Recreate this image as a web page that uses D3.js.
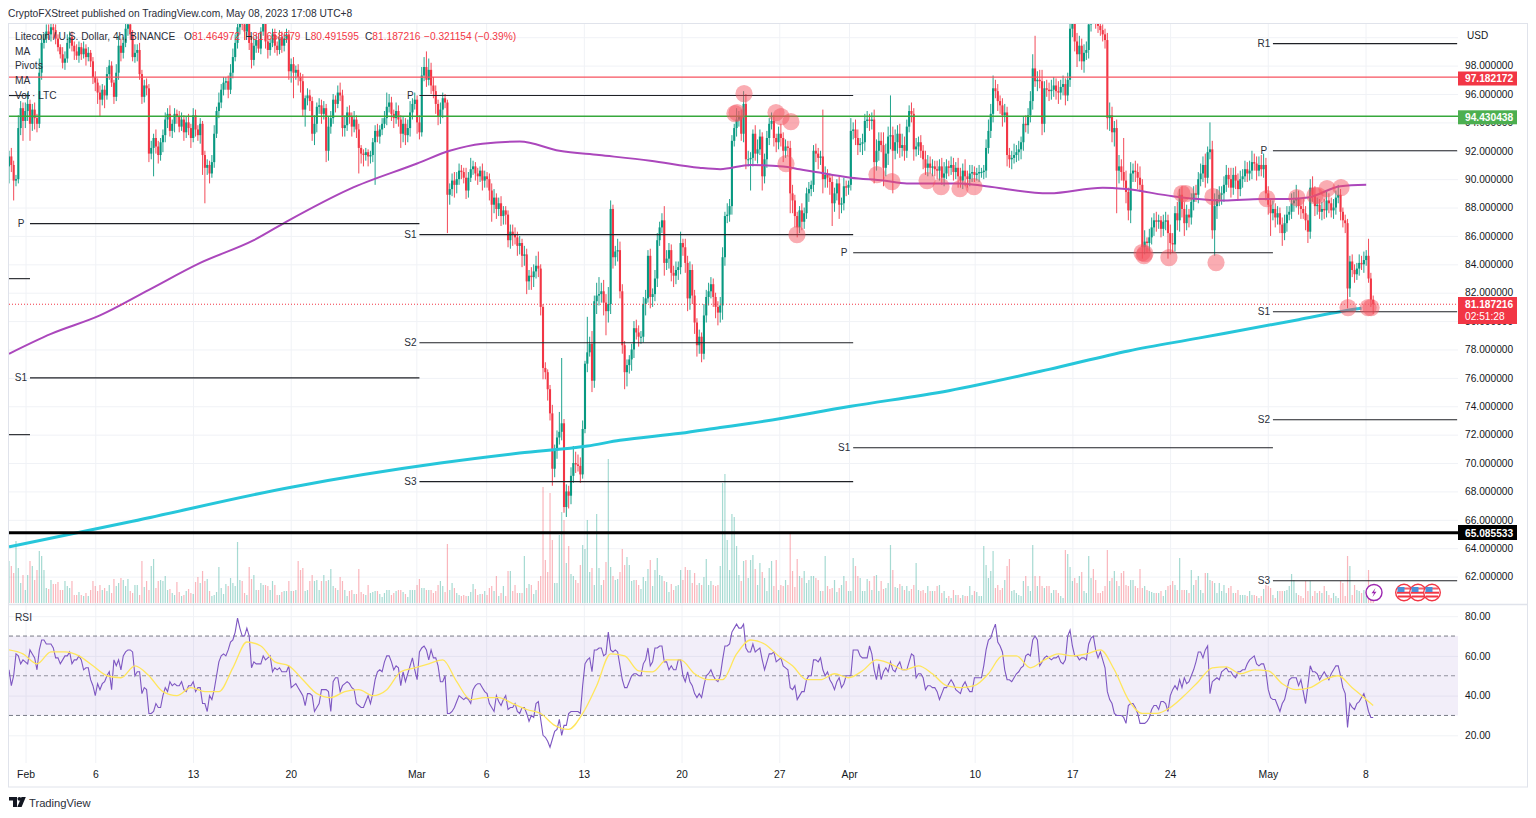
<!DOCTYPE html>
<html>
<head>
<meta charset="utf-8">
<script src="https://cdnjs.cloudflare.com/ajax/libs/d3/7.8.5/d3.min.js"></script>
<style>
html, body { margin: 0; padding: 0; background: #fff; overflow: hidden; }
svg { display: block; }
text { font-family: "Liberation Sans", Arial, sans-serif; fill: #131722; }
.domain { display: none; }
</style>
</head>
<body>
<svg id="chart" width="1536" height="818"></svg>
<script>
// values, one 4h bar each
const firstOpen = 90.9;
const closes = [
91.6,91.0,89.9,90.0,93.6,95.0,94.1,94.8,95.3,93.9,94.9,94.3,
93.9,97.5,99.6,99.9,100.4,100.2,100.7,100.5,99.9,99.3,98.8,98.2,
98.5,99.6,100.0,99.4,99.0,98.7,99.3,98.8,99.2,98.6,98.9,98.3,
97.2,96.8,96.1,95.6,96.3,95.9,97.4,98.0,96.8,95.8,97.5,99.4,
98.9,99.6,100.6,100.9,100.2,98.6,98.9,99.1,97.4,95.8,96.6,96.4,
91.8,92.2,92.9,92.3,91.7,92.6,93.1,94.2,94.6,93.4,93.9,94.6,
94.4,93.7,94.2,93.3,94.0,93.6,92.9,94.5,93.5,93.1,93.9,91.7,
90.8,91.0,90.4,91.2,93.2,94.8,95.4,96.3,96.8,96.9,96.3,97.5,
98.6,99.6,100.7,101.5,100.9,100.4,101.1,99.6,98.4,99.4,99.8,99.2,
100.4,101.0,99.7,99.1,99.6,100.2,99.4,99.1,100.0,99.4,99.9,100.2,
97.6,98.1,97.5,97.7,97.2,96.9,94.9,95.7,95.9,95.5,93.2,93.9,
95.1,95.2,94.6,95.0,92.0,93.7,94.3,95.6,95.3,96.1,95.9,93.6,
93.8,94.7,94.4,93.7,94.2,93.5,92.2,91.8,91.7,91.9,91.6,91.7,
92.6,93.4,93.0,93.5,93.9,94.3,95.1,95.4,94.6,94.3,94.8,94.2,
93.2,93.9,93.1,93.6,94.7,95.3,95.6,94.0,93.3,97.3,97.9,97.0,
97.7,96.6,96.2,95.3,94.4,94.9,95.7,95.4,88.9,89.3,89.9,89.6,
90.0,90.6,90.5,90.1,89.2,90.1,90.7,90.9,90.4,90.2,90.6,89.9,
90.2,90.0,89.2,88.2,88.7,87.9,88.3,87.4,87.8,87.5,85.7,86.3,
86.1,85.9,85.3,85.5,84.6,84.7,82.8,83.2,83.1,83.5,83.9,83.7,
81.0,76.7,76.4,75.2,73.5,69.6,70.9,71.8,72.2,72.8,66.9,68.0,
67.7,69.1,70.0,69.9,69.8,69.2,72.4,77.0,77.8,78.4,75.8,81.4,
81.8,81.9,82.1,81.3,80.7,81.2,87.9,84.5,84.9,85.0,82.1,78.3,
76.4,76.9,77.3,78.0,79.5,79.2,78.9,78.9,81.2,81.6,84.6,81.7,
81.9,83.0,85.7,86.6,87.1,84.1,84.4,85.0,83.4,83.2,83.6,83.8,
85.5,85.2,84.1,81.6,83.6,81.8,79.9,78.3,78.9,77.7,80.4,81.7,
82.1,82.6,81.7,81.0,80.6,81.1,84.5,87.4,87.5,88.1,92.7,93.6,
94.2,94.4,93.2,95.3,91.4,91.4,91.5,93.2,91.8,92.1,93.0,90.2,
91.4,92.9,93.9,94.1,92.9,92.6,93.2,92.9,92.0,92.3,92.2,89.0,
88.5,87.4,86.6,87.8,87.0,87.6,89.0,89.3,89.6,92.0,91.8,91.5,
91.6,90.0,90.3,90.1,89.8,88.3,89.0,89.7,88.2,88.3,89.5,89.4,
89.6,93.4,93.5,92.9,92.4,92.5,92.6,94.1,94.2,94.1,94.2,91.2,
92.0,92.7,92.4,90.8,91.8,93.0,93.1,92.0,92.6,93.2,92.2,92.4,
92.0,93.7,94.8,94.6,92.1,92.3,92.6,92.0,91.4,90.8,91.1,90.8,
90.9,90.7,90.6,90.9,90.1,90.4,90.9,90.8,91.0,90.5,90.8,90.2,
89.9,90.6,90.2,90.0,90.4,90.5,90.3,90.4,90.5,90.5,90.6,92.2,
93.4,94.6,96.4,96.2,95.5,95.2,94.5,94.7,91.7,91.4,91.5,91.7,
91.9,92.1,92.6,93.9,93.8,94.5,95.5,97.8,96.9,97.0,96.9,93.9,
96.4,96.3,96.2,96.3,96.6,96.2,96.1,96.5,96.7,95.9,97.0,100.6,
101.3,99.7,98.8,99.4,98.3,98.9,99.1,100.9,101.8,101.6,101.3,100.8,
100.5,100.2,99.8,94.3,94.5,93.3,93.6,90.6,90.9,90.5,89.9,89.1,
87.8,90.4,90.6,90.5,90.1,89.6,85.2,85.6,85.5,85.9,86.6,87.1,
87.0,87.1,86.5,87.0,87.1,86.2,85.5,85.4,87.6,87.1,88.9,87.9,
86.9,87.5,87.3,88.4,89.0,88.9,90.0,90.4,91.0,90.1,91.9,92.1,
86.4,88.1,88.6,88.9,89.0,89.6,90.3,90.0,89.4,90.3,89.9,89.3,
90.0,90.2,90.7,90.4,90.6,91.2,91.1,90.6,91.0,90.7,91.0,89.0,
88.2,87.6,87.9,87.3,87.6,86.8,86.2,86.9,87.5,87.7,88.3,88.5,
88.6,88.1,87.9,87.6,87.1,86.3,89.4,88.9,88.1,88.2,87.7,87.9,
87.8,88.5,88.3,87.8,88.0,88.7,88.9,87.7,87.1,86.9,82.3,84.2,
83.6,83.3,83.7,84.1,84.0,84.3,84.6,83.0,81.5,81.187];

// wick length beyond the body, in tenths of a dollar
const wickHigh = [
4,6,3,3,9,5,4,6,8,3,4,5,
3,10,6,4,5,5,6,3,4,3,2,5,
5,6,4,4,3,5,4,3,5,3,4,2,
3,4,3,5,4,3,5,4,3,2,6,7,
5,4,6,4,3,3,6,4,5,3,4,5,
3,5,3,6,4,3,4,5,4,6,3,4,
3,4,5,3,4,6,3,5,4,3,4,2,
3,4,3,5,6,3,7,4,4,3,4,6,
6,6,5,4,5,4,3,4,5,6,4,5,
3,4,5,4,3,4,4,3,5,4,3,4,
3,4,5,3,4,3,5,2,5,4,3,6,
3,5,4,5,3,7,5,4,3,5,7,4,
7,4,5,3,6,3,4,2,3,3,2,3,
3,4,5,3,4,5,10,6,4,3,6,4,
3,5,4,6,8,4,5,3,5,6,7,11,
8,5,6,4,3,5,4,3,2,4,5,6,
5,5,4,3,7,4,8,4,3,4,3,5,
4,3,4,5,6,3,4,5,3,3,3,5,
5,5,4,5,3,6,4,4,6,5,7,10,
3,2,4,2,3,6,4,5,14,46,3,5,
4,6,12,8,7,6,6,2,25,5,9,4,
9,12,6,8,6,12,6,3,4,8,6,5,
3,4,3,4,5,6,5,4,5,6,4,5,
4,6,5,4,5,10,6,5,4,5,6,4,
8,3,6,5,6,4,4,3,5,3,8,5,
6,5,4,3,4,6,7,3,8,5,4,3,
8,4,5,9,7,6,4,3,6,7,5,3,
4,5,4,6,4,3,5,7,4,5,4,5,
6,4,3,3,5,4,4,5,3,4,5,4,
4,33,6,4,3,5,4,3,5,4,6,4,
3,9,5,7,6,4,6,5,6,4,5,7,
8,6,6,9,7,7,28,6,9,6,7,8,
6,5,4,6,4,6,4,5,4,6,6,5,
5,4,6,5,6,8,5,4,6,5,4,7,
6,5,8,4,6,5,4,4,5,3,4,6,
8,7,9,6,5,4,5,6,4,5,5,8,
5,6,4,5,6,5,7,10,23,6,7,8,
5,6,5,7,6,5,7,5,6,4,5,6,
5,4,6,7,5,6,6,5,5,4,6,4,
5,4,4,5,9,6,5,6,8,5,24,7,
3,8,5,7,6,8,4,8,3,6,7,5,
6,4,3,5,6,4,6,7,5,8,4,6,
5,7,4,6,5,6,5,7,6,8,4,19,
6,9,7,6,5,6,7,5,8,5,6,5,
6,5,6,5,7,8,6,5,6,7,8,5,
5,4,6,4,5,4,5,6,6,4,7,6,
10,6,5,7,5,4,6,8,6,5,4,5,
7,6,5,4,6,5,7,4,3,4,3,4,
5,4,4,6,5,6,4,12,4,3];
const wickLow = [
12,5,14,4,3,5,14,5,7,12,5,8,
6,3,5,4,3,4,5,6,4,3,3,4,
5,3,4,4,6,3,5,4,3,6,3,4,
5,6,8,12,4,9,3,4,3,5,3,5,
6,4,3,5,4,3,4,6,4,5,4,5,
6,4,20,5,6,4,7,5,6,4,5,6,
5,4,3,6,4,5,7,3,5,4,6,14,
25,5,7,3,4,3,5,4,4,5,6,3,
4,3,4,5,4,6,3,5,6,4,5,3,
4,3,5,6,4,3,5,4,3,5,4,3,
6,8,18,5,6,8,5,12,5,7,5,8,
6,5,7,4,8,7,5,4,6,3,4,6,
6,4,5,7,4,6,18,7,8,4,7,5,
5,30,4,5,4,3,5,4,5,7,4,5,
10,6,7,5,6,5,4,8,5,3,4,5,
4,6,5,7,6,5,6,4,27,7,5,9,
6,4,5,4,6,5,3,4,5,6,4,7,
5,6,7,12,6,7,5,7,6,7,5,6,
8,5,7,6,8,7,9,6,9,7,5,6,
6,8,5,8,5,12,6,6,5,6,4,7,
9,6,5,6,4,6,3,3,6,3,8,5,
9,7,6,9,17,8,7,8,6,7,5,6,
12,10,6,8,6,5,7,5,4,8,3,8,
7,5,6,4,4,9,5,7,6,8,6,7,
5,6,7,9,8,6,8,8,6,6,4,5,
6,5,7,8,9,7,10,6,5,5,6,4,
6,5,5,6,7,5,22,6,5,7,4,10,
5,6,5,4,6,7,5,6,8,5,6,14,
9,8,7,4,6,5,4,6,5,5,6,8,
5,10,6,7,9,16,6,5,10,6,5,6,
5,4,6,5,7,5,8,6,5,7,6,15,
6,7,5,13,6,8,9,30,6,8,7,6,
7,5,4,6,8,5,6,5,7,5,6,4,
6,5,6,7,5,6,4,6,5,6,5,8,
5,6,7,6,5,6,5,4,6,4,5,5,
4,5,6,5,7,6,8,5,8,6,7,4,
5,6,7,6,5,6,5,6,4,7,5,8,
6,5,7,6,5,6,8,5,6,7,4,5,
6,7,9,5,6,8,5,6,5,6,7,5,
4,5,6,8,9,7,10,30,9,6,5,8,
7,9,6,7,8,5,8,5,7,6,5,6,
7,5,6,5,6,18,8,6,5,7,8,6,
9,5,7,5,6,5,6,5,6,7,4,5,
6,18,9,5,7,6,5,6,7,5,6,7,
5,6,4,6,5,6,5,7,4,5,6,5,
7,16,5,7,5,6,9,5,6,4,5,6,
5,6,7,4,7,8,5,5,7,6,5,6,
6,5,7,5,6,5,4,6,5,7,14,6,
5,6,4,5,4,6,4,3,5,7];

const volumes = [
42,37,30,62,35,20,28,13,28,42,37,23,33,52,47,33,15,14,23,19,19,21,13,13,22,17,15,22,8,8,11,8,7,10,7,13,22,17,12,18,
13,15,12,18,10,24,17,20,25,23,17,24,12,10,18,18,8,42,16,22,13,37,44,15,22,23,22,27,13,14,10,8,21,11,7,8,12,14,10,9,
21,26,20,32,22,24,12,7,8,11,36,15,9,19,17,25,20,17,61,23,22,10,8,36,24,28,13,13,20,18,18,17,13,22,18,8,8,11,12,12,
22,12,12,13,42,33,35,12,13,22,28,22,23,13,22,28,22,23,34,17,15,13,26,22,13,7,12,13,9,9,34,11,9,8,18,10,11,12,12,9,
6,10,13,13,8,10,12,13,13,11,9,6,13,13,13,18,24,15,15,13,13,13,10,12,18,22,17,11,59,13,20,15,10,8,7,8,7,7,11,19,
14,8,9,9,12,8,15,17,12,27,7,
10,17,7,32,32,12,18,10,10,10,47,15,19,18,9,13,22,27,116,43,31,110,63,20,20,68,91,83,40,57,29,27,23,20,38,58,54,83,31,35,
18,89,35,18,23,41,144,36,27,23,24,31,54,38,46,38,22,23,23,18,14,26,22,34,43,17,33,45,28,27,22,21,11,19,13,17,18,33,23,36,
33,33,20,30,18,20,18,26,44,18,22,18,17,18,37,120,129,63,33,89,86,57,28,22,42,43,25,43,48,34,18,40,31,25,12,35,42,17,43,13,
18,17,23,18,70,32,16,44,27,25,32,20,23,27,27,25,23,12,12,47,17,14,15,23,11,15,18,27,22,12,12,45,37,27,25,12,12,24,22,13,
27,28,12,22,14,15,20,58,33,16,15,19,17,13,17,12,14,18,40,13,12,13,10,17,12,12,12,17,18,10,12,5,7,5,13,8,8,
5,8,7,7,17,8,12,11,7,7,57,38,25,32,52,15,18,13,15,23,37,44,12,13,10,8,7,22,27,17,12,58,27,17,27,17,15,17,17,10,
13,13,10,7,5,53,49,36,22,25,20,27,31,12,10,47,25,34,23,10,10,12,17,53,22,25,32,22,17,30,32,18,17,23,23,17,15,34,15,17,
13,12,11,10,10,10,12,7,13,17,18,22,18,13,45,13,13,13,10,33,18,23,27,13,10,30,30,23,22,20,10,20,12,18,10,15,17,10,10,13,
8,8,8,7,12,8,8,7,5,7,14,18,17,15,8,5,12,12,12,12,13,17,29,23,10,8,7,5,22,12,22,7,12,10,12,10,17,12,8,5,
10,7,5,22,20,7,47,37,8,18,13,12,10,13,7,33,7,3];

const rsiValues = [
53,45,50,61,60,56,58,57,56,63,61,59,53,63,68,68,66,66,66,64,59,59,56,58,60,60,62,56,58,58,60,58,53,54,54,48,45,40,46,43,
46,47,50,52,43,58,55,58,53,60,62,63,63,62,50,52,52,41,44,43,31,31,32,36,34,34,40,44,42,47,45,46,45,45,47,43,42,45,45,47,
42,44,44,36,36,32,40,38,43,50,57,60,61,60,63,67,68,72,79,74,70,70,74,70,54,57,56,56,56,60,58,59,60,52,54,53,54,52,52,52,
55,44,45,46,44,42,40,35,41,41,40,32,34,36,43,43,43,42,32,47,49,49,42,45,46,47,46,44,43,36,35,34,34,37,40,36,41,48,52,53,
52,57,60,60,57,53,55,54,45,52,47,51,55,59,53,48,62,64,65,63,58,63,59,59,55,47,47,50,31,31,32,34,37,40,39,38,39,38,36,43,
45,46,46,44,42,41,36,34,32,40,37,
35,38,40,33,34,34,36,32,31,34,34,31,27,30,29,36,37,28,20,19,17,14,18,22,23,28,20,25,25,31,32,32,32,32,31,45,56,58,59,52,
63,63,64,64,60,61,72,63,62,63,62,55,48,44,44,47,50,51,51,50,50,56,58,64,55,57,64,64,65,65,57,57,53,55,53,53,58,58,50,47,
52,47,45,41,39,41,39,45,50,51,53,50,48,47,50,58,65,65,66,72,74,76,74,74,76,64,62,62,66,62,63,64,58,53,57,61,61,62,57,58,
59,55,54,53,44,43,45,38,40,42,42,48,50,50,58,58,57,59,53,50,52,48,46,43,47,49,44,46,50,50,50,63,63,63,60,59,59,59,65,61,
53,48,56,48,52,54,52,57,53,52,55,57,53,53,53,57,61,60,49,51,51,49,43,45,45,44,44,42,38,41,44,44,46,48,46,43,42,
41,45,47,44,42,42,49,49,49,49,55,63,68,69,73,76,67,65,62,53,48,48,47,49,51,52,54,55,60,61,60,68,70,68,55,57,59,60,59,58,
59,59,60,57,56,58,70,73,65,60,60,58,59,59,58,66,69,70,63,59,62,58,54,42,38,36,31,30,30,30,29,26,35,36,36,34,31,26,26,26,
27,29,33,35,35,33,37,37,36,32,40,43,45,43,48,44,49,46,47,50,53,57,62,62,59,63,65,41,47,48,49,48,52,53,54,52,52,50,49,52,
52,53,53,56,58,59,60,56,55,56,56,52,43,39,38,38,35,32,36,38,43,48,49,49,49,45,48,42,36,45,55,52,52,51,48,50,52,50,48,51,
53,55,55,50,44,41,24,36,34,33,36,37,39,41,37,32,29,29];

// RSI moving average, read every 6 bars
const rsiMa = [63,61,56,62,62,60,55,50,49,55,50,42,40,44,42,42,54,67,65,57,55,48,41,39,42,43,40,43,52,54,56,58,47,38,39,
39,36,33,31,25,23,31,45,61,60,52.5,52,58,58,51,48,48,61,68,66,60,55,48,48,51,49,52.5,58,56,53,55,51,45,44,
45,51,60,60,54,58,61,60,61,63,53,38,31,31,34,40,47,54,54.5,51,53,52.5,46,43,44,48,50,44,38];
const rsiMaLast = [585, 35];

// the two long moving averages: bar number, price
const purpleBars = [0,18,39,60,82,105,120,146,175,189,203,219,236,253,275,296,305,318,332,339,346,361,375,385,408,419,446,469,479,499,521,537,549,557,571,582];
const purpleVals = [77.7,79.1,80.4,82.2,84.1,85.7,87.1,89.3,91.1,92,92.5,92.65,92,91.7,91.3,90.8,90.7,91,90.9,90.7,90.5,90.1,89.9,89.7,89.7,89.5,89,89.4,89.3,88.8,88.5,88.6,88.6,88.7,89.5,89.6];
const cyanBars = [0,53,121,185,219,248,262,288,305,318,361,403,446,480,510,553,572,580];
const cyanVals = [64.1,65.9,68.3,70,70.7,71.2,71.6,72.1,72.5,72.8,74,75.1,76.6,77.9,78.8,80.1,80.7,80.9];

// pivot segments: label, first bar, last bar, price
const pivotNames = ["", "", "", "P", "S1", "P", "S1", "S2", "S3", "P", "S1", "R1", "P", "S1", "S2", "S3"];
const pivotFrom = [0, 0, 0, 9, 9, 176, 176, 176, 176, 362, 362, 542, 542, 542, 542, 542];
const pivotTo = [9, 9, 9, 176, 176, 362, 362, 362, 362, 542, 542, 621, 621, 621, 621, 621];
const pivotPrice = [95.89, 82.99, 72.0, 86.87, 76.0, 95.89, 86.09, 78.48, 68.69, 84.82, 71.08, 99.55, 92.0, 80.66, 73.05, 61.71];

// pink highlight circles: bar number, price
const markBars = [311.3,312.2,315.2,328.9,331.1,335.3,333.2,337.9,372.2,378.6,393.7,399.7,407.8,413.8,485.9,487.1,486.7,497.4,503,504.7,516.3,517.6,539.4,552.3,560,561.3,565.2,571.2,574.2,582.8,584.1];
const markVals = [94.62,94.69,96.03,94.69,94.41,94.05,91.09,86.09,90.32,89.83,89.9,89.47,89.33,89.47,84.82,84.75,84.61,84.47,88.98,88.98,88.77,84.12,88.63,88.7,88.84,88.84,89.33,89.4,80.95,80.95,80.95];

const priceTicks = [62,64,66,68,70,72,74,76,78,80,82,84,86,88,90,92,94,96,98];
const rsiTicks = [20,40,60,80];
const dateTicks = [[1,1],[1,6],[1,13],[1,20],[2,1],[2,6],[2,13],[2,20],[2,27],[3,1],[3,10],[3,17],[3,24],[4,1],[4,8]];
const monthNames = ["Jan","Feb","Mar","Apr","May"];

const redLevel = 97.182172, greenLevel = 94.430438, blackLevel = 65.085533, lastPrice = 81.187216;

const paneL = 9, paneR = 1458, paneT = 24, volBase = 603, paneEnd = 604;
const UP = "#089981", DOWN = "#f23645";

const x = d3.scaleUtc().domain([Date.UTC(2023,1,1), Date.UTC(2023,4,8)]).range([25.5, 1365.5]);
const bx = d3.scaleLinear().domain([0, 585]).range([9, 1373.2]);
const y = d3.scaleLinear().domain([62, 98]).range([576.6, 65.6]);
const yRsi = d3.scaleLinear().domain([20, 80]).range([735.3, 616.2]);
const yVol = d3.scaleLinear().domain([0, 150]).range([volBase, volBase - 150]);

const svg = d3.select("#chart");
const defs = svg.append("defs");
defs.append("clipPath").attr("id", "pricePane").append("rect").attr("x", paneL).attr("y", paneT).attr("width", paneR - paneL).attr("height", paneEnd - paneT);
defs.append("clipPath").attr("id", "rsiPane").append("rect").attr("x", paneL).attr("y", paneEnd).attr("width", paneR - paneL).attr("height", 158);

const bars = closes.map((c, i) => {
    const o = i ? closes[i - 1] : firstOpen;
    return {
        i: i, o: o, c: c,
        h: Math.max(o, c) + (wickHigh[i] || 0) / 10,
        l: Math.min(o, c) - (wickLow[i] || 0) / 10,
        v: volumes[i] || 0,
        up: c >= o
    };
});

// frame
svg.append("text").attr("x", 8).attr("y", 17).attr("font-size", 10.25).style("fill", "#2a2e39")
    .text("CryptoFXStreet published on TradingView.com, May 08, 2023 17:08 UTC+8");
svg.append("rect").attr("x", 8.5).attr("y", 23.5).attr("width", 1519).attr("height", 763.5)
    .attr("fill", "#fff").attr("stroke", "#e0e3eb");

// grid
const gridColor = "#f0f2f6";
const gridY = svg.append("g").attr("transform", `translate(${paneR},0)`)
    .call(d3.axisLeft(y).tickValues(priceTicks.concat([100])).tickSize(paneR - paneL).tickFormat(""));
gridY.selectAll("line").attr("stroke", gridColor);
const gridR = svg.append("g").attr("transform", `translate(${paneR},0)`)
    .call(d3.axisLeft(yRsi).tickValues(rsiTicks).tickSize(paneR - paneL).tickFormat(""));
gridR.selectAll("line").attr("stroke", gridColor);

const tickDates = dateTicks.map(d => new Date(Date.UTC(2023, d[0], d[1])));
const gridX = svg.append("g").attr("transform", "translate(0,763)")
    .call(d3.axisTop(x).tickValues(tickDates).tickSize(739).tickFormat(""));
gridX.selectAll("line").attr("stroke", gridColor);

// pane separator
svg.append("line").attr("x1", 8).attr("x2", 1527).attr("y1", 604.5).attr("y2", 604.5).attr("stroke", "#e0e3eb").attr("stroke-width", 1.4);

const pricePane = svg.append("g").attr("clip-path", "url(#pricePane)");

// volume
pricePane.append("g").selectAll("rect").data(bars).join("rect")
    .attr("x", d => bx(d.i) - 0.6).attr("width", 1.2)
    .attr("y", d => yVol(d.v)).attr("height", d => volBase - yVol(d.v))
    .attr("fill", d => d.up ? UP : DOWN).attr("opacity", 0.36);

// candles
const candles = pricePane.append("g");
candles.selectAll("line").data(bars).join("line")
    .attr("x1", d => bx(d.i)).attr("x2", d => bx(d.i))
    .attr("y1", d => y(d.h)).attr("y2", d => y(d.l))
    .attr("stroke", d => d.up ? UP : DOWN).attr("stroke-width", 0.9);
candles.selectAll("rect").data(bars).join("rect")
    .attr("x", d => bx(d.i) - 1.05).attr("width", 2.1)
    .attr("y", d => y(Math.max(d.o, d.c)))
    .attr("height", d => Math.max(1, Math.abs(y(d.o) - y(d.c))))
    .attr("fill", d => d.up ? UP : DOWN);

// long moving averages
const maLine = d3.line().x(d => bx(d[0])).y(d => y(d[1])).curve(d3.curveMonotoneX);
pricePane.append("path").attr("d", maLine(purpleBars.map((b, i) => [b, purpleVals[i]])))
    .attr("fill", "none").attr("stroke", "#ab47bc").attr("stroke-width", 2);
pricePane.append("path").attr("d", maLine(cyanBars.map((b, i) => [b, cyanVals[i]])))
    .attr("fill", "none").attr("stroke", "#26c6da").attr("stroke-width", 3);

// pivots
pivotNames.forEach((name, i) => {
    const py = y(pivotPrice[i]);
    pricePane.append("line").attr("x1", bx(pivotFrom[i])).attr("x2", Math.min(bx(pivotTo[i]), paneR))
        .attr("y1", py).attr("y2", py).attr("stroke", "#1f2126").attr("stroke-width", 1.1);
    if (name) svg.append("text").attr("x", bx(pivotFrom[i]) - 9).attr("y", py + 3.5)
        .attr("text-anchor", "middle").attr("font-size", 10).style("fill", "#2a2e39").text(name);
});

// horizontal levels
const level = (p, color, w, dash) => pricePane.append("line").attr("x1", paneL).attr("x2", paneR)
    .attr("y1", y(p)).attr("y2", y(p)).attr("stroke", color).attr("stroke-width", w).attr("stroke-dasharray", dash || null);
level(redLevel, "#f7525f", 1.2);
level(greenLevel, "#36a83c", 1.6);
level(blackLevel, "#000", 3);
level(lastPrice, "#f23645", 1, "1 2");

// highlight circles
pricePane.append("g").selectAll("circle").data(markBars).join("circle")
    .attr("cx", d => bx(d)).attr("cy", (d, i) => y(markVals[i])).attr("r", 8.6)
    .attr("fill", "#f4515f").attr("opacity", 0.48);

// RSI
const rsiPane = svg.append("g").attr("clip-path", "url(#rsiPane)");
rsiPane.append("rect").attr("x", paneL).attr("width", paneR - paneL)
    .attr("y", yRsi(70)).attr("height", yRsi(30) - yRsi(70))
    .attr("fill", "#7e57c2").attr("opacity", 0.1);
[70, 50, 30].forEach(v => {
    rsiPane.append("line").attr("x1", paneL).attr("x2", paneR).attr("y1", yRsi(v)).attr("y2", yRsi(v))
        .attr("stroke", "#787b86").attr("stroke-dasharray", "4 3").attr("stroke-width", v == 50 ? 0.8 : 1);
});
rsiPane.append("path").attr("d", d3.line().x((d, i) => bx(i)).y(d => yRsi(d))(rsiValues))
    .attr("fill", "none").attr("stroke", "#7e57c2").attr("stroke-width", 1.1);
const rsiMaPts = rsiMa.map((v, i) => [i * 6, v]).concat([rsiMaLast]);
rsiPane.append("path").attr("d", d3.line().x(d => bx(d[0])).y(d => yRsi(d[1])).curve(d3.curveMonotoneX)(rsiMaPts))
    .attr("fill", "none").attr("stroke", "#ffe65c").attr("stroke-width", 1.3);

// axes
const axisTextStyle = g => g.selectAll("text").attr("font-size", 10.2).style("fill", "#131722");
const yAxis = svg.append("g").attr("transform", `translate(${paneR},0)`)
    .call(d3.axisRight(y).tickValues(priceTicks).tickSize(0).tickPadding(7).tickFormat(d3.format(".6f")));
axisTextStyle(yAxis);
const rAxis = svg.append("g").attr("transform", `translate(${paneR},0)`)
    .call(d3.axisRight(yRsi).tickValues(rsiTicks).tickSize(0).tickPadding(7).tickFormat(d3.format(".2f")));
axisTextStyle(rAxis);
svg.append("text").attr("x", 1467).attr("y", 39).attr("font-size", 10).text("USD");

const xAxis = svg.append("g").attr("transform", "translate(0,763)")
    .call(d3.axisBottom(x).tickValues(tickDates).tickSize(0).tickPadding(8)
        .tickFormat(d => d.getUTCDate() == 1 ? monthNames[d.getUTCMonth()] : d.getUTCDate()));
xAxis.selectAll("text").attr("font-size", 10.4).style("fill", "#131722");

// price tags
const tag = (color, yTop, h) => svg.append("rect").attr("x", 1458).attr("y", yTop).attr("width", 59).attr("height", h).attr("fill", color);
const tagText = (label, ty) => svg.append("text").attr("x", 1465).attr("y", ty).attr("font-size", 10.2).attr("font-weight", "bold").style("fill", "#fff").text(label);
tag("#f23645", 71.5, 14); tagText(redLevel.toFixed(6), 82.3);
tag("#4caf50", 110.3, 14); tagText(greenLevel.toFixed(6), 121);
tag("#f23645", 297, 27); tagText(lastPrice.toFixed(6), 308);
svg.append("text").attr("x", 1465).attr("y", 320).attr("font-size", 10.2).style("fill", "#fff").text("02:51:28");
tag("#000", 525, 15); tagText(blackLevel.toFixed(6), 536.5);

// legend
const legend = svg.append("g").attr("font-size", 10.2);
legend.append("text").attr("x", 15).attr("y", 39.5).style("fill", "#2a2e39").text("Litecoin / U.S. Dollar, 4h, BINANCE");
const legendItems = [["O", "81.464972", 184], ["H", "81.658579", 245], ["L", "80.491595", 305], ["C", "81.187216", 365]];
legendItems.forEach(d => {
    const t = legend.append("text").attr("x", d[2]).attr("y", 39.5).style("fill", "#2a2e39").text(d[0]);
    t.append("tspan").style("fill", "#f23645").text(d[1]);
});
legend.append("text").attr("x", 424).attr("y", 39.5).style("fill", "#f23645").text("\u22120.321154 (\u22120.39%)");
[["MA", 54.5], ["Pivots", 69], ["MA", 83.5], ["Vol \u00b7 LTC", 98.5]].forEach(d => {
    legend.append("text").attr("x", 15).attr("y", d[1]).style("fill", "#2a2e39").text(d[0]);
});
svg.append("text").attr("x", 15).attr("y", 621).attr("font-size", 10.2).style("fill", "#2a2e39").text("RSI");

// event icons on the time scale
const icons = svg.append("g");
const bolt = icons.append("g").attr("transform", "translate(1374,592.5)");
bolt.append("circle").attr("r", 8).attr("fill", "#fff").attr("stroke", "#9c27b0").attr("stroke-width", 1.4);
bolt.append("path").attr("d", "M1.5,-4.5 L-2.5,0.8 L0,0.8 L-1.5,4.5 L2.5,-0.8 L0,-0.8 Z").attr("fill", "#9c27b0");
[1404, 1418, 1432].forEach(cx => {
    const f = icons.append("g").attr("transform", `translate(${cx},592.5)`);
    f.append("circle").attr("r", 8.3).attr("fill", "#fff").attr("stroke", "#f23645").attr("stroke-width", 1.4);
    f.append("rect").attr("x", -6.5).attr("y", -5).attr("width", 13).attr("height", 2).attr("fill", "#f23645").attr("opacity", 0.8);
    f.append("rect").attr("x", -7).attr("y", -0.8).attr("width", 14).attr("height", 2).attr("fill", "#f23645");
    f.append("rect").attr("x", -6).attr("y", 3).attr("width", 12).attr("height", 2).attr("fill", "#f23645");
    f.append("rect").attr("x", -6.5).attr("y", -5.5).attr("width", 7).attr("height", 5).attr("fill", "#4a90d9");
});

// TradingView mark
const logo = svg.append("g").attr("fill", "#131722");
logo.append("path").attr("d", "M9,797 h8 v10 h-4 v-6.5 h-4 Z");
logo.append("circle").attr("cx", 19.4).attr("cy", 798.8).attr("r", 1.9);
logo.append("path").attr("d", "M21.5,797 h4.3 l-4.2,10 h-4.3 Z");
svg.append("text").attr("x", 29).attr("y", 807).attr("font-size", 11.2).style("fill", "#2a2e39").text("TradingView");
</script>
</body>
</html>
